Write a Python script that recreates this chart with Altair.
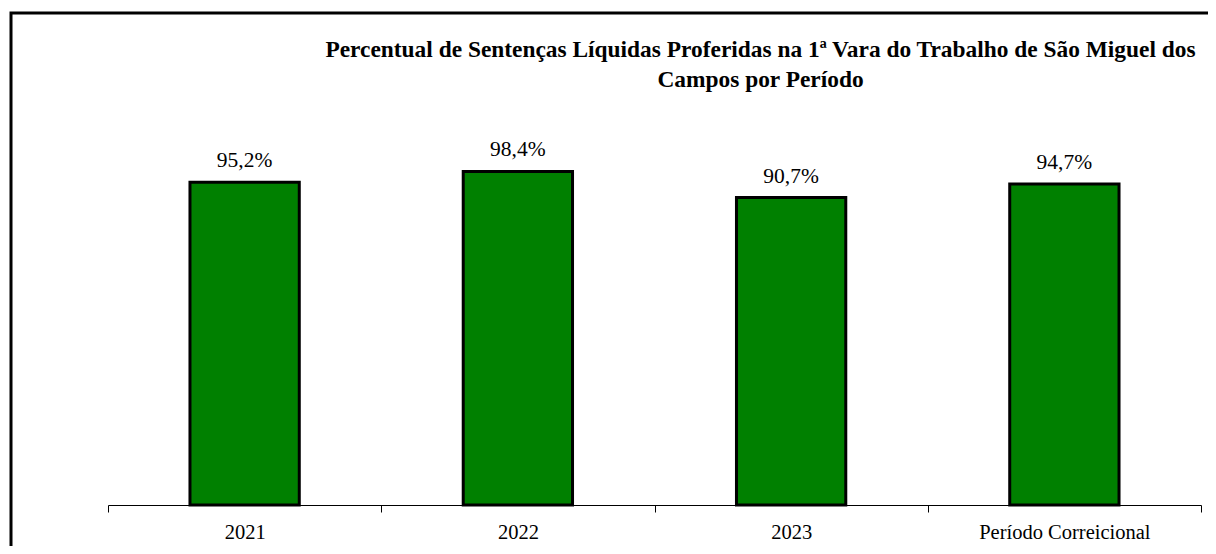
import altair as alt
import pandas as pd

categories = ["2021", "2022", "2023", "Período Correicional"]
values = [95.2, 98.4, 90.7, 94.7]
labels = [f"{v:.1f}%".replace(".", ",") for v in values]

df = pd.DataFrame({"cat": categories, "val": values, "lbl": labels})

FONT = "'Liberation Serif', 'Times New Roman', serif"

x = alt.X("cat:N", sort=categories, title=None,
          scale=alt.Scale(paddingInner=0, paddingOuter=0),
          axis=alt.Axis(labelAngle=0, labelFont=FONT, labelFontSize=20.5, labelColor="black",
                        labelBaseline="alphabetic",
                        domainColor="black", tickColor="black", tickSize=7, tickBand="extent",
                        labelPadding=26, grid=False))
y = alt.Y("val:Q", title=None, scale=alt.Scale(domain=[0, 100], nice=False),
          axis=None)

base = alt.Chart(df)

frame = alt.Chart(pd.DataFrame({"a": [0]})).mark_rect(
    fill=None, stroke="black", strokeWidth=3, clip=False
).encode(x=alt.value(-97), x2=alt.value(1115), y=alt.value(-153), y2=alt.value(400))

bars = base.mark_bar(color="#008000", stroke="black", strokeWidth=3,
                     width=alt.RelativeBandSize(0.4)).encode(x=x, y=y)
text = base.mark_text(font=FONT, fontSize=21.5, color="black", dy=-15, baseline="alphabetic").encode(
    x=alt.X("cat:N", sort=categories), y="val:Q", text="lbl:N")

chart = alt.layer(frame, bars, text).properties(
    width=1093, height=339,
    title=alt.TitleParams(
        ["Percentual de Sentenças Líquidas Proferidas na 1ª Vara do Trabalho de São Miguel dos",
         "Campos por Período"],
        font=FONT, fontSize=23.4, fontWeight="bold", color="black", anchor="middle",
        baseline="alphabetic", lineHeight=30, offset=-99, dx=106, frame="group"),
    autosize=alt.AutoSizeParams(type="none"),
    padding={"left": 100, "top": 158, "right": 7, "bottom": 41},
).configure_view(stroke=None)

chart.save("out.html", embed_options={"renderer": "svg", "actions": False})
